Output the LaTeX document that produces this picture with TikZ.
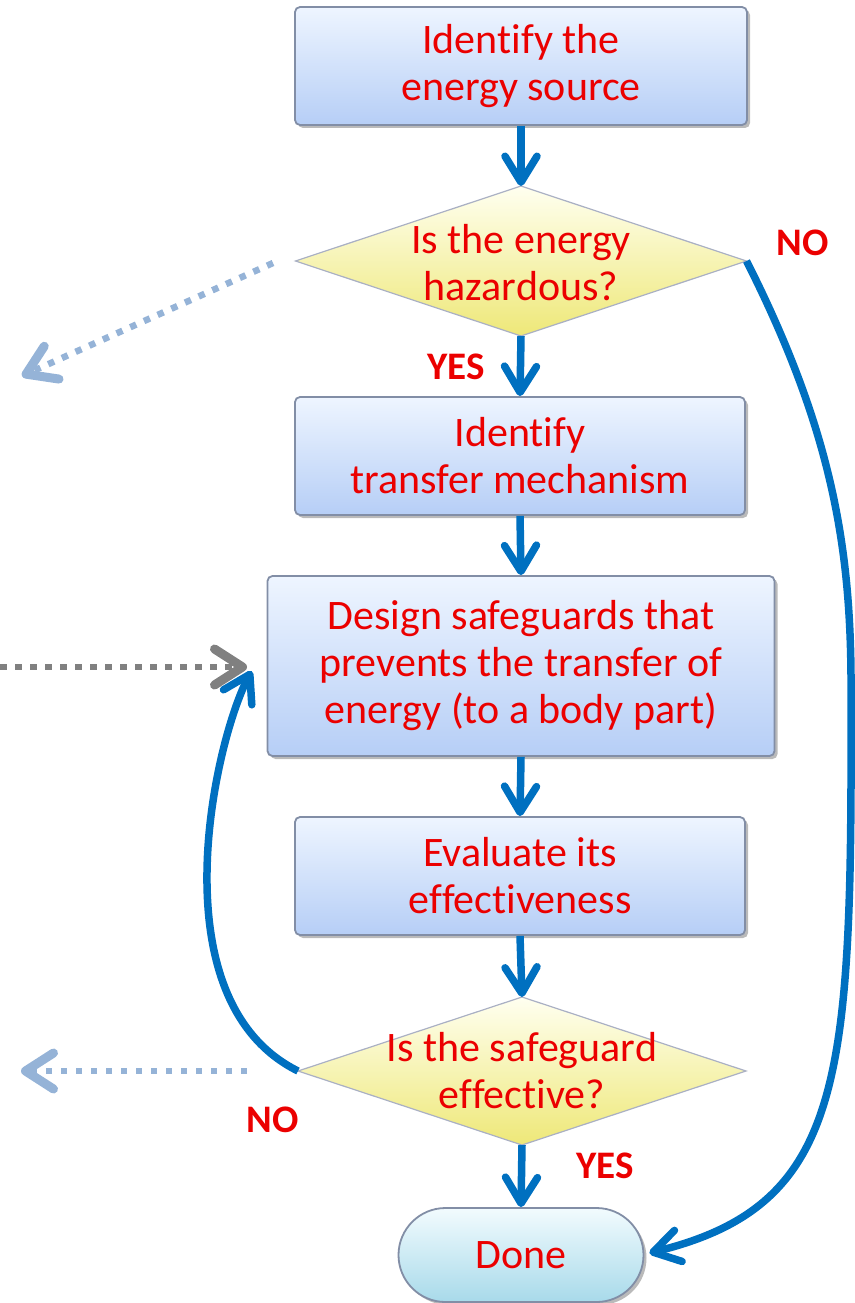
\documentclass[tikz,border=0pt]{standalone}
\usepackage{fontspec}
\setmainfont{Carlito}[Ligatures={NoCommon,NoRare,NoContextual},RawFeature={-liga;-clig;-dlig;-calt}]
\usetikzlibrary{arrows.meta,shapes.geometric,shapes.misc,shadows,calc}
\newcommand{\nl}{\kern0pt }
\definecolor{txtred}{RGB}{235,0,0}
\definecolor{flowblue}{RGB}{0,112,192}
\definecolor{dotblue}{RGB}{149,179,215}
\definecolor{dotgray}{RGB}{128,128,128}
\definecolor{boxtop}{RGB}{238,245,255}
\definecolor{boxbot}{RGB}{182,206,246}
\definecolor{boxedge}{RGB}{130,142,166}
\definecolor{dtop}{RGB}{255,255,240}
\definecolor{dbot}{RGB}{238,232,120}
\definecolor{dedge}{RGB}{170,176,196}
\definecolor{donetop}{RGB}{242,251,254}
\definecolor{donebot}{RGB}{168,218,234}
\begin{document}
\begin{tikzpicture}[x=1pt,y=-1pt,
  txt/.style={text=txtred, font=\fontsize{42}{47}\selectfont, align=center, inner sep=0pt},
  lbl/.style={text=txtred, font=\fontsize{39}{44}\selectfont\bfseries, inner sep=0pt},
  procbox/.style={rectangle, rounded corners=5pt, top color=boxtop, bottom color=boxbot,
    draw=boxedge, line width=1.8pt, inner sep=0pt,
    drop shadow={shadow xshift=3pt, shadow yshift=-3pt, fill=black!60, opacity=0.45},
    text=txtred, font=\fontsize{42}{47}\selectfont, align=center},
  decision/.style={diamond, inner sep=0pt, outer sep=0pt, top color=dtop, bottom color=dbot,
    draw=dedge, line width=1.2pt},
  donebox/.style={rounded rectangle, inner sep=0pt, top color=donetop, bottom color=donebot,
    draw=boxedge, line width=1.8pt,
    drop shadow={shadow xshift=3pt, shadow yshift=-3pt, fill=black!60, opacity=0.45},
    text=txtred, font=\fontsize{42}{47}\selectfont},
  flow/.style={draw=flowblue, line width=7.5pt, -{Straight Barb[length=26pt,width=32pt,round]}},
  dotarrow/.style={line width=6.5pt, dash pattern=on 6.5pt off 8.5pt,
    -{Straight Barb[length=28pt,width=36pt,line width=9pt,round]}}
]
\useasboundingbox (0,0) rectangle (854,1303);

% nodes
\node[procbox, minimum width=452pt, minimum height=118pt] (b1) at (521,66) {Ident\nl ify the\\energy source};
\node[decision, minimum width=451pt, minimum height=150pt] (d1) at (521,261) {};
\node[txt] (d1t) at (521,263) {Is the energy\\hazardous?};
\node[procbox, minimum width=450pt, minimum height=118pt] (b2) at (520,456) {Ident\nl ify\\transfer mechanism};
\node[procbox, minimum width=507pt, minimum height=180pt] (b3) at (521,666) {Design safeguards that\\prevents the transfer of\\energy (to a body part)};
\node[procbox, minimum width=450pt, minimum height=118pt] (b4) at (520,876) {Evaluate its\\ef\nl fect\nl iveness};
\node[decision, minimum width=448pt, minimum height=148pt] (d2) at (522,1071) {};
\node[txt] (d2t) at (522,1071) {Is the safeguard\\ef\nl fect\nl ive?};
\node[donebox, minimum width=245pt, minimum height=94pt] (done) at (521,1255) {Done};

% labels
\node[lbl] (noA) at (803,243) {NO};
\node[lbl] (yesA) at (456,367) {YES};
\node[lbl] (noB) at (273,1120) {NO};
\node[lbl] (yesB) at (605,1166) {YES};

% main flow
\draw[flow] (b1.south) -- (d1.north);
\draw[flow] (d1.south) -- (b2.north);
\draw[flow] (b2.south) -- (b3.north);
\draw[flow] (b3.south) -- (b4.north);
\draw[flow] (b4.south) -- (d2.north);
\draw[flow] (d2.south) -- (done.north);

% loops
\draw[flow] (d1.east) .. controls (837,440) and (852,560) .. (851,700)
  .. controls (852,1080) and (845,1205) .. ($(done.east)+(5,-2)$);
\draw[flow] (d2.west) .. controls (155,1000) and (215,740) .. ($(b3.west)+(-15,5)$);

% dotted arrows
\coordinate (ul0) at (273,263);
\coordinate (ul1) at (22,376);
\coordinate (gl0) at (0,667);
\coordinate (gl1) at (247,667);
\coordinate (ll0) at (247,1071);
\coordinate (ll1) at (21,1071);
\draw[dotarrow, draw=dotblue] (ul0) -- (ul1);
\draw[dotarrow, draw=dotgray] (gl0) -- (gl1);
\draw[dotarrow, draw=dotblue] (ll0) -- (ll1);
\end{tikzpicture}
\end{document}
